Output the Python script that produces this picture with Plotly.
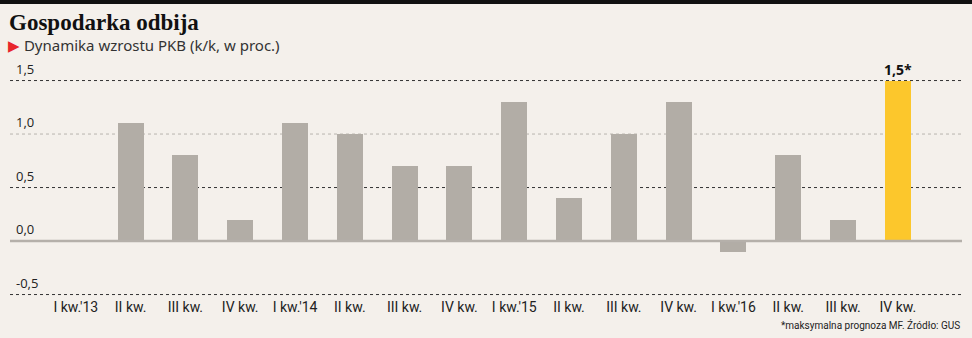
import plotly.graph_objects as go

categories = ["I kw.'13", "II kw.", "III kw.", "IV kw.", "I kw.'14", "II kw.", "III kw.", "IV kw.",
              "I kw.'15", "II kw.", "III kw.", "IV kw.", "I kw.'16", "II kw.", "III kw.", "IV kw."]
values = [0.0, 1.1, 0.8, 0.2, 1.1, 1.0, 0.7, 0.7, 1.3, 0.4, 1.0, 1.3, -0.1, 0.8, 0.2, 1.5]
ytick_vals = [1.5, 1.0, 0.5, 0.0, -0.5]
ytick_text = ["1,5", "1,0", "0,5", "0,0", "-0,5"]
forecast_label = "1,5*"

GREY = "#b2ada6"
YELLOW = "#fcc72c"
BG = "#f4f0eb"

xs = list(range(len(categories)))
colors = [GREY] * (len(values) - 1) + [YELLOW]

fig = go.Figure()
fig.add_trace(go.Bar(x=xs, y=values, marker=dict(color=colors, line=dict(width=0)),
                     width=0.475, hoverinfo="skip"))

shapes = []
# top black band
shapes.append(dict(type="rect", xref="paper", yref="paper", x0=-0.02, x1=1.02, y0=1.2333, y1=1.3,
                   fillcolor="#111111", line=dict(width=0), layer="below"))
for v in ytick_vals:
    if v == 0:
        continue
    col = "#b8b4ae" if v == 1.0 else "#333333"
    shapes.append(dict(type="line", xref="paper", yref="y", x0=0, x1=1, y0=v, y1=v,
                       line=dict(color=col, width=1, dash="dot"), layer="below"))
shapes.append(dict(type="line", xref="paper", yref="y", x0=0, x1=1, y0=0, y1=0,
                   line=dict(color="#b5b0aa", width=2.5), layer="above"))

annotations = []
for v, t in zip(ytick_vals, ytick_text):
    annotations.append(dict(xref="paper", yref="y", x=0.004, y=v, text=t, showarrow=False,
                            xanchor="left", yanchor="bottom", yshift=1,
                            font=dict(family="Open Sans", size=13, color="#222222")))
annotations.append(dict(x=xs[-1], y=values[-1], text="<b>" + forecast_label + "</b>", showarrow=False,
                        xanchor="center", yanchor="bottom", yshift=0,
                        font=dict(family="Open Sans", size=14, color="#111111")))
annotations.append(dict(xref="paper", yref="paper", x=-0.003, y=1.158, text="<b>Gospodarka odbija</b>",
                        showarrow=False, xanchor="left", yanchor="middle",
                        font=dict(family="Liberation Serif", size=23, color="#111111")))
annotations.append(dict(xref="paper", yref="paper", x=-0.004, y=1.0625,
                        text="<span style='color:#e8262b'>▶</span> Dynamika wzrostu PKB (k/k, w proc.)",
                        showarrow=False, xanchor="left", yanchor="middle",
                        font=dict(family="Noto Sans", size=15, color="#333333")))
annotations.append(dict(xref="paper", yref="paper", x=1.0, y=-0.104, text="*maksymalna prognoza MF. Źródło: GUS",
                        showarrow=False, xanchor="right", yanchor="middle",
                        font=dict(family="Liberation Sans Narrow, Roboto", size=10, color="#222222")))

fig.update_layout(
    width=972, height=338,
    margin=dict(l=10, r=10, t=60, b=38),
    paper_bgcolor=BG, plot_bgcolor=BG,
    showlegend=False,
    bargap=0,
    shapes=shapes,
    annotations=annotations,
    xaxis=dict(range=[-1.2, 16.17], tickmode="array", tickvals=xs, ticktext=categories,
               showgrid=False, zeroline=False, showline=False, ticks="",
               ticklabelstandoff=-3,
               tickfont=dict(family="Liberation Sans Narrow, Roboto", size=14, color="#222222"),
               fixedrange=True),
    yaxis=dict(range=[-0.551, 1.692], showgrid=False, zeroline=False, showticklabels=False,
               showline=False, fixedrange=True),
)

fig.write_html("out.html")
